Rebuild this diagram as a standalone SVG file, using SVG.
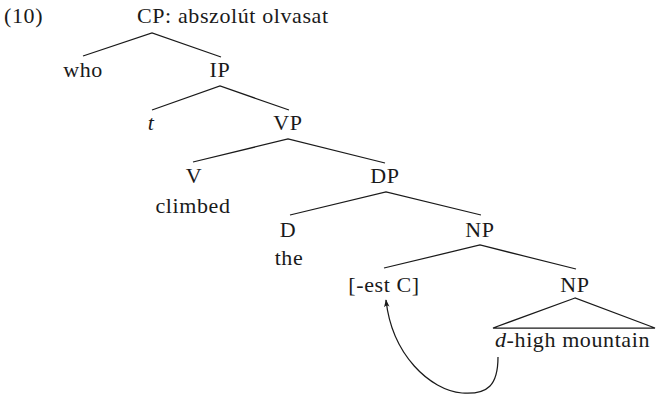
<svg xmlns="http://www.w3.org/2000/svg" width="656" height="395" viewBox="0 0 656 395">
  <style>
    text { font-family: "Liberation Serif", "Times New Roman", serif; font-size: 22px; letter-spacing: 0.6px; fill: #1a1a1a; }
    .c { text-anchor: middle; }
    .it { font-style: italic; }
    .br { stroke: #1a1a1a; stroke-width: 1.25; fill: none; }
  </style>
  <defs>
    <marker id="head" viewBox="0 0 10 10" refX="9" refY="5" markerWidth="8" markerHeight="8" orient="auto" markerUnits="userSpaceOnUse">
      <path d="M0,1.5 Q4,5 0,8.5 L10,5 Z" fill="#1a1a1a"/>
    </marker>
  </defs>

  <text x="4" y="23">(10)</text>

  <g id="connectors">
    <polyline class="br" points="83,56 152,33 221,57"/>
    <polyline class="br" points="152,110 220,86 289,110"/>
    <polyline class="br" points="193,162 288,139 385,163"/>
    <polyline class="br" points="290,215 386,192 481,215"/>
    <polyline class="br" points="384,268 480,245 576,269"/>
    <polygon class="br" points="575,298 493,328 655,328"/>
    <path class="br" d="M498,357 C498,385 488,395 462,393 C430,390 392,355 386,300" marker-end="url(#head)"/>
  </g>

  <g id="cp"><text x="137" y="23">CP: abszolút olvasat</text></g>
  <g id="who"><text class="c" x="83" y="77">who</text></g>
  <g id="ip"><text class="c" x="220" y="77">IP</text></g>
  <g id="t"><text class="c it" x="151" y="130">t</text></g>
  <g id="vp"><text class="c" x="288" y="130">VP</text></g>
  <g id="v"><text class="c" x="194" y="183">V</text><text class="c" x="193" y="213">climbed</text></g>
  <g id="dp"><text class="c" x="385" y="183">DP</text></g>
  <g id="d"><text class="c" x="288" y="237">D</text><text class="c" x="289" y="265">the</text></g>
  <g id="np1"><text class="c" x="480" y="237">NP</text></g>
  <g id="est"><text class="c" x="384" y="292">[-est C]</text></g>
  <g id="np2"><text class="c" x="575" y="292">NP</text></g>
  <g id="mountain"><text x="495" y="347"><tspan class="it">d</tspan>-high mountain</text></g>
</svg>
